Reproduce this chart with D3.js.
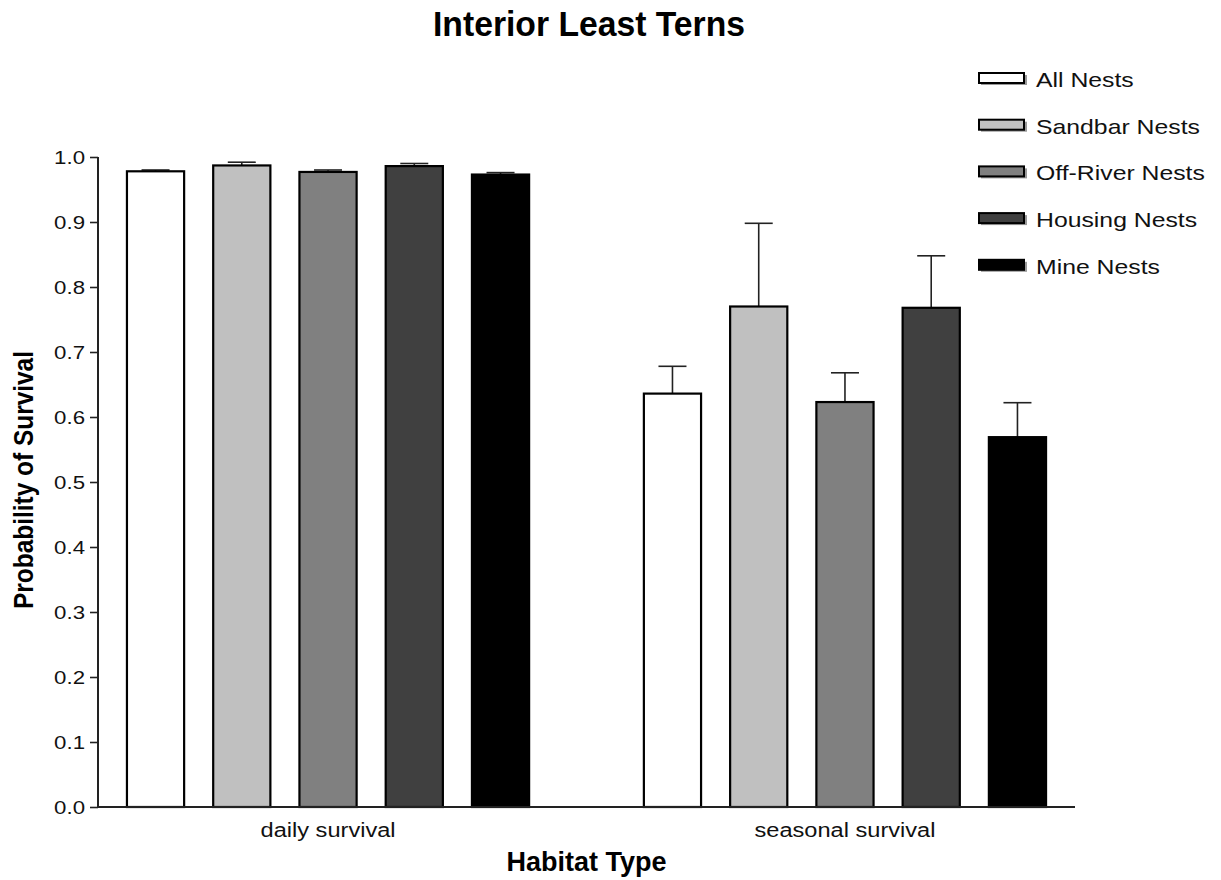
<!DOCTYPE html>
<html>
<head>
<meta charset="utf-8">
<script src="https://cdn.jsdelivr.net/npm/d3@7"></script>
<style>
  html, body { margin: 0; padding: 0; background: #fff; }
  svg { display: block; font-family: Arial, "Liberation Sans", sans-serif; }
</style>
</head>
<body>
<svg id="chart" width="1221" height="880"></svg>
<script>
const categories = ["daily survival", "seasonal survival"];
const series = ["All Nests", "Sandbar Nests", "Off-River Nests", "Housing Nests", "Mine Nests"];
const dailyValues = [0.978, 0.987, 0.977, 0.986, 0.973];
const dailyUpper = [0.980, 0.992, 0.980, 0.990, 0.976];
const seasonalValues = [0.636, 0.770, 0.623, 0.768, 0.569];
const seasonalUpper = [0.678, 0.898, 0.668, 0.848, 0.622];
const yTicks = [0.0, 0.1, 0.2, 0.3, 0.4, 0.5, 0.6, 0.7, 0.8, 0.9, 1.0];
const colors = ["#ffffff", "#c0c0c0", "#808080", "#404040", "#000000"];

const values = [dailyValues, seasonalValues];
const uppers = [dailyUpper, seasonalUpper];
const rows = [];
categories.forEach((c, ci) => series.forEach((s, si) => rows.push({
  cat: c, ser: s, si: si, v: values[ci][si], up: uppers[ci][si]
})));

// stretch text horizontally by a factor (reference font renders wider)
function stretch(sel, factor) {
  sel.each(function() {
    const len = this.getComputedTextLength();
    d3.select(this).attr("textLength", len * factor).attr("lengthAdjust", "spacingAndGlyphs");
  });
}

const svg = d3.select("#chart");
const plotLeft = 98, plotRight = 1075, plotTop = 157, plotBottom = 807;

const x0 = d3.scaleBand().domain(categories).range([plotLeft, plotRight])
  .paddingInner(0.222).paddingOuter(0.056);
const x1 = d3.scaleBand().domain(series).range([0, x0.bandwidth()]).paddingInner(0.337);
const y = d3.scaleLinear().domain([0, 1]).range([plotBottom, plotTop]);
const color = d3.scaleOrdinal().domain(series).range(colors);

// title
svg.append("text").attr("x", 589).attr("y", 36).attr("text-anchor", "middle")
  .attr("font-size", 35).attr("font-weight", "bold")
  .attr("textLength", 312).attr("lengthAdjust", "spacingAndGlyphs")
  .text("Interior Least Terns");

// error bars (upper only)
const eb = svg.append("g").attr("stroke", "#222").attr("stroke-width", 1.6);
rows.forEach(d => {
  const cx = x0(d.cat) + x1(d.ser) + x1.bandwidth() / 2;
  eb.append("line").attr("x1", cx).attr("x2", cx).attr("y1", y(d.v)).attr("y2", y(d.up));
  eb.append("line").attr("x1", cx - 14).attr("x2", cx + 14).attr("y1", y(d.up)).attr("y2", y(d.up));
});

// bars
svg.append("g").selectAll("rect").data(rows).join("rect")
  .attr("x", d => x0(d.cat) + x1(d.ser))
  .attr("y", d => y(d.v))
  .attr("width", x1.bandwidth())
  .attr("height", d => y(0) - y(d.v))
  .attr("fill", d => color(d.ser))
  .attr("stroke", "#000").attr("stroke-width", 2.2);

// y axis
const yAxis = svg.append("g").attr("transform", `translate(${plotLeft},0)`)
  .call(d3.axisLeft(y).tickValues(yTicks).tickFormat(d3.format(".1f")).tickSize(8).tickPadding(5));
yAxis.select(".domain").attr("stroke", "#222").attr("stroke-width", 2).attr("d", `M0,${plotTop}V${plotBottom}`);
yAxis.selectAll(".tick line").attr("stroke", "#222").attr("stroke-width", 1.6);
yAxis.selectAll(".tick text").attr("font-size", 19).attr("fill", "#111")
  .attr("font-family", "Arial, 'Liberation Sans', sans-serif");
stretch(yAxis.selectAll(".tick text"), 1.17);

// x axis
const xAxis = svg.append("g").attr("transform", `translate(0,${plotBottom})`)
  .call(d3.axisBottom(x0).tickSize(0).tickPadding(16));
xAxis.select(".domain").attr("stroke", "#222").attr("stroke-width", 2).attr("d", `M${plotLeft - 1},0H${plotRight}`);
xAxis.selectAll(".tick text").attr("font-size", 20).attr("fill", "#111")
  .attr("font-family", "Arial, 'Liberation Sans', sans-serif");
stretch(xAxis.selectAll(".tick text"), 1.18);

// axis titles
svg.append("text").attr("x", (plotLeft + plotRight) / 2).attr("y", 871).attr("text-anchor", "middle")
  .attr("font-size", 27.5).attr("font-weight", "bold")
  .attr("textLength", 160).attr("lengthAdjust", "spacingAndGlyphs")
  .text("Habitat Type");
svg.append("text").attr("transform", `translate(33,480) rotate(-90)`)
  .attr("text-anchor", "middle").attr("font-size", 28).attr("font-weight", "bold")
  .attr("textLength", 258).attr("lengthAdjust", "spacingAndGlyphs")
  .text("Probability of Survival");

// legend
const lg = svg.append("g");
series.forEach((s, i) => {
  const cy = 78 + i * 46.7;
  const g = lg.append("g").attr("transform", `translate(979,${cy})`);
  g.append("rect").attr("x", 2).attr("y", -3).attr("width", 46).attr("height", 10).attr("fill", "#999");
  g.append("rect").attr("x", 0).attr("y", -5).attr("width", 45).attr("height", 10)
    .attr("fill", color(s)).attr("stroke", "#000").attr("stroke-width", 2);
  const t = g.append("text").attr("x", 57).attr("y", 9).attr("font-size", 21).attr("fill", "#111").text(s);
  stretch(t, 1.18);
});
</script>
</body>
</html>
